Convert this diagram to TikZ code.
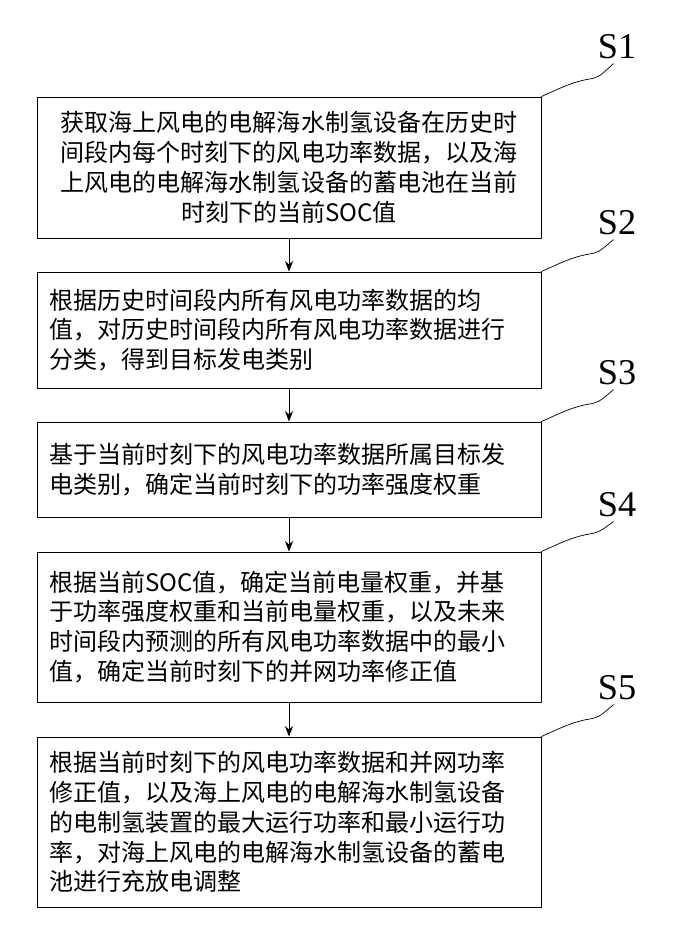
\documentclass[tikz,border=0pt]{standalone}
\usepackage{fontspec}
\setmainfont{Liberation Serif}
\newfontfamily\cjk{Noto Sans CJK SC}
\usetikzlibrary{arrows.meta}
\tikzstyle{every path}=[line width=0.8pt,line cap=round,line join=round]
\tikzset{
    stepbox/.style={draw,minimum width=504*0.03cm,inner xsep=0pt,
        text width=480*0.03cm,align=left,
        font=\cjk\fontsize{20.5}{25.5}\selectfont},
    steplabel/.style={font=\fontsize{31}{31}\selectfont},
    flow/.style={-{Stealth[length=9pt,width=7pt]}}
}
\begin{document}
\begin{tikzpicture}[x=0.03cm,y=-0.03cm]
    \useasboundingbox (0,0) rectangle (676,930);
    % steps
    \node[stepbox,align=center,minimum height=141*0.03cm] (s1) at (289,167.5)
        {获取海上风电的电解海水制氢设备在历史时\\间段内每个时刻下的风电功率数据，以及海\\上风电的电解海水制氢设备的蓄电池在当前\\时刻下的当前SOC值};
    \node[stepbox,minimum height=116*0.03cm] (s2) at (289,330)
        {根据历史时间段内所有风电功率数据的均\\值，对历史时间段内所有风电功率数据进行\\分类，得到目标发电类别};
    \node[stepbox,minimum height=95*0.03cm] (s3) at (289,469.5)
        {基于当前时刻下的风电功率数据所属目标发\\电类别，确定当前时刻下的功率强度权重};
    \node[stepbox,minimum height=150*0.03cm] (s4) at (289,627)
        {根据当前SOC值，确定当前电量权重，并基\\于功率强度权重和当前电量权重，以及未来\\时间段内预测的所有风电功率数据中的最小\\值，确定当前时刻下的并网功率修正值};
    \node[stepbox,minimum height=170*0.03cm] (s5) at (289,822)
        {根据当前时刻下的风电功率数据和并网功率\\修正值，以及海上风电的电解海水制氢设备\\的电制氢装置的最大运行功率和最小运行功\\率，对海上风电的电解海水制氢设备的蓄电\\池进行充放电调整};
    % labels
    \node[steplabel] (l1) at (617,47) {S1};
    \node[steplabel] (l2) at (617,223) {S2};
    \node[steplabel] (l3) at (617,373) {S3};
    \node[steplabel] (l4) at (617,505) {S4};
    \node[steplabel] (l5) at (617,688) {S5};
    \foreach \i in {1,...,5}
        \draw[line width=0.6pt] (s\i.north east)
            .. controls +(20,-9) and +(-15,3) .. ++(45,-17)
            .. controls +(12,-2) .. ([xshift=-3pt]l\i.south);
    % arrows
    \coordinate (ax) at (289,0);
    \foreach \i/\j in {1/2,2/3,3/4,4/5}
        \draw[flow] (s\i.south -| ax) -- (s\j.north -| ax);
\end{tikzpicture}
\end{document}
